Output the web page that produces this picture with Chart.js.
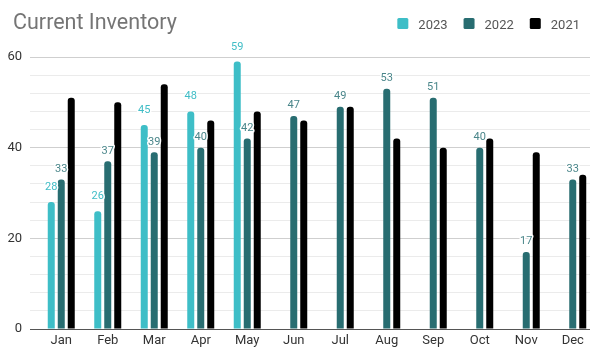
<!DOCTYPE html>
<html>
<head>
<meta charset="utf-8">
<script src="https://cdn.jsdelivr.net/npm/chart.js@4"></script>
<style>
  html, body { margin: 0; padding: 0; background: #fff; overflow: hidden; }
  #wrap { position: relative; width: 600px; height: 348px; }
</style>
</head>
<body>
<div id="wrap"><canvas id="inv"></canvas></div>
<script>
const months = ['Jan', 'Feb', 'Mar', 'Apr', 'May', 'Jun', 'Jul', 'Aug', 'Sep', 'Oct', 'Nov', 'Dec'];
const y2023 = [28, 26, 45, 48, 59, null, null, null, null, null, null, null];
const y2022 = [33, 37, 39, 40, 42, 47, 49, 53, 51, 40, 17, 33];
const y2021 = [51, 50, 54, 46, 48, 46, 49, 42, 40, 42, 39, 34];
const chartTitle = 'Current Inventory';

const FONT = 'Roboto, "Liberation Sans", Arial, sans-serif';

// value labels above 2023 and 2022 bars (2021 has none)
const barLabels = {
    id: 'barLabels',
    afterDatasetsDraw(chart) {
        const ctx = chart.ctx;
        ctx.save();
        ctx.font = '11px ' + FONT;
        ctx.textAlign = 'center';
        ctx.textBaseline = 'alphabetic';
        chart.data.datasets.forEach((ds, di) => {
            if (!ds.labelColor) return;
            const meta = chart.getDatasetMeta(di);
            meta.data.forEach((bar, i) => {
                const v = ds.data[i];
                if (v === null || v === undefined) return;
                const y = bar.y - ds.labelGap;
                ctx.lineWidth = 3;
                ctx.strokeStyle = '#fff';
                ctx.lineJoin = 'round';
                ctx.strokeText(String(v), bar.x, y);
                ctx.fillStyle = ds.labelColor;
                ctx.fillText(String(v), bar.x, y);
            });
        });
        ctx.restore();
    }
};

// title on the left and legend on the right, same row
const header = {
    id: 'header',
    afterDraw(chart) {
        const ctx = chart.ctx;
        ctx.save();
        ctx.textBaseline = 'alphabetic';
        ctx.textAlign = 'left';
        ctx.font = '21.5px ' + FONT;
        ctx.fillStyle = '#757575';
        ctx.fillText(chartTitle, 13, 28.5);

        ctx.font = '13px ' + FONT;
        const items = chart.data.datasets.map(ds => ({ text: ds.label, color: ds.backgroundColor, w: ctx.measureText(ds.label).width }));
        const box = 11, gapText = 10, gapItem = 16;
        let total = 0;
        items.forEach((it, i) => { total += box + gapText + it.w + (i < items.length - 1 ? gapItem : 0); });
        let x = 580 - total;
        items.forEach(it => {
            ctx.fillStyle = it.color;
            ctx.beginPath();
            ctx.roundRect(x, 18, box, 11, 1.5);
            ctx.fill();
            x += box + gapText;
            ctx.fillStyle = '#555';
            ctx.fillText(it.text, x, 28.5);
            x += it.w + gapItem;
        });
        ctx.restore();
    }
};

const ctx = document.getElementById('inv');
new Chart(ctx, {
    type: 'bar',
    data: {
        labels: months,
        datasets: [
            { label: '2023', data: y2023, backgroundColor: '#3ebec7', labelColor: '#40bdc6', labelGap: 12 },
            { label: '2022', data: y2022, backgroundColor: '#286d71', labelColor: '#4a868a', labelGap: 7.5 },
            { label: '2021', data: y2021, backgroundColor: '#000000' }
        ]
    },
    options: {
        responsive: true,
        maintainAspectRatio: false,
        animation: false,
        layout: { padding: { top: 57, right: 4, left: 0, bottom: 0 } },
        datasets: {
            bar: {
                categoryPercentage: 0.645,
                barPercentage: 0.7,
                borderRadius: 3,
                borderSkipped: 'start'
            }
        },
        plugins: {
            tooltip: { enabled: false },
            legend: { display: false }
        },
        scales: {
            x: {
                grid: { display: false, drawTicks: false },
                border: { display: false },
                ticks: { color: '#333', padding: 4, autoSkip: false, maxRotation: 0, font: { family: FONT, size: 13 } },
                afterFit: s => { s.height = 19; }
            },
            y: {
                min: 0,
                max: 60,
                border: { display: false },
                grid: {
                    tickLength: 8,
                    color: c => c.tick.value === 0 ? '#555' : (c.tick.value % 20 === 0 ? '#cfcfcf' : '#ebebeb')
                },
                ticks: {
                    stepSize: 4,
                    autoSkip: false,
                    padding: 8,
                    color: '#333',
                    font: { family: FONT, size: 13 },
                    callback: v => v % 20 === 0 ? v : ''
                },
                afterFit: s => { s.width = 38; }
            }
        }
    },
    plugins: [barLabels, header]
});
</script>
</body>
</html>
